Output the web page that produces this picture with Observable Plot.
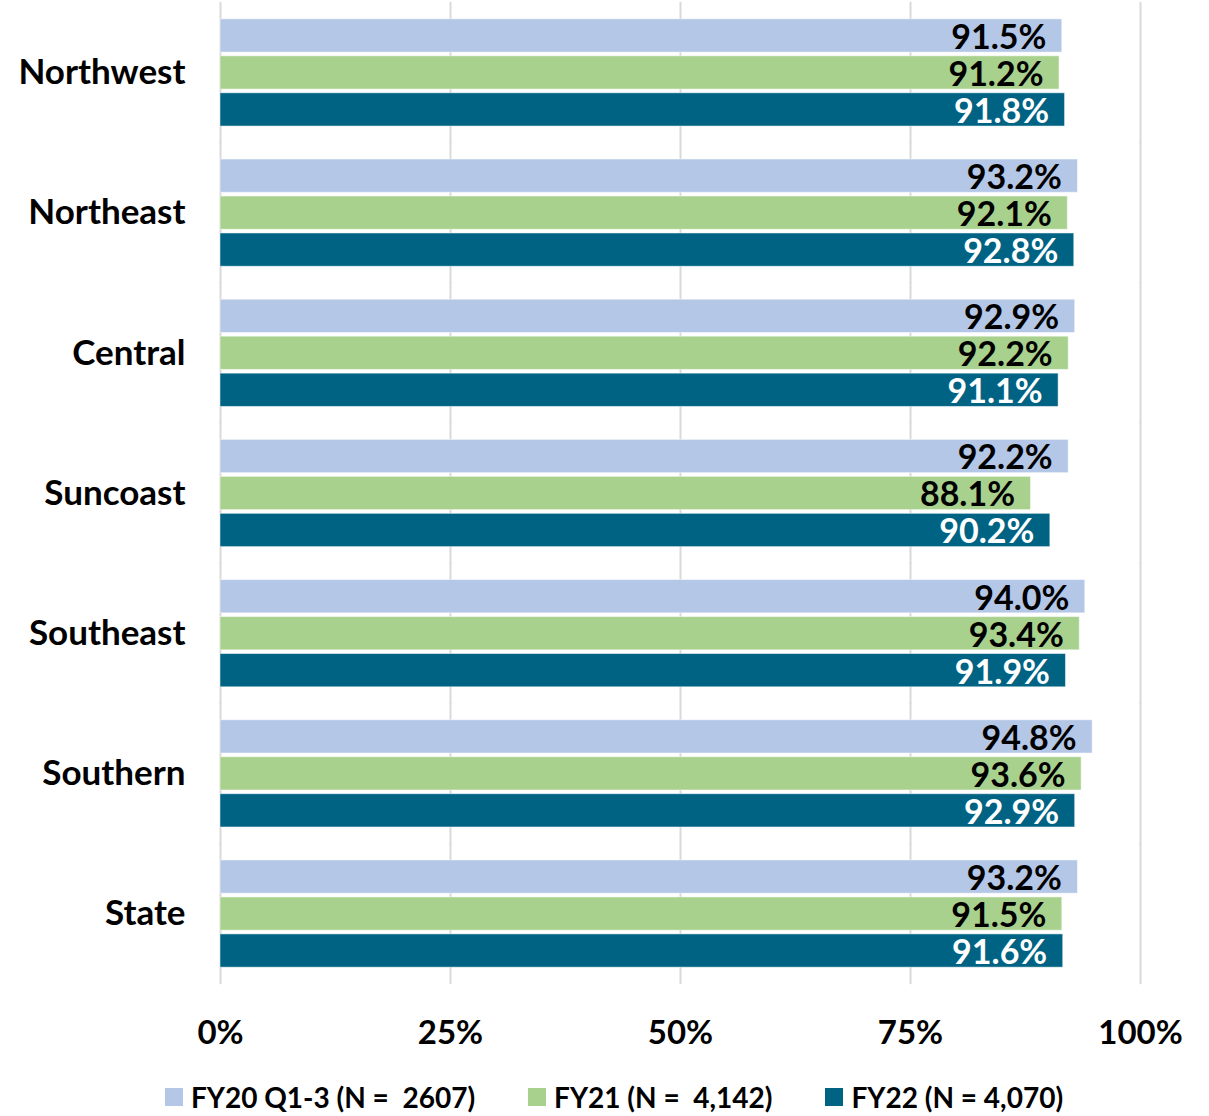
<!DOCTYPE html>
<html>
<head>
<meta charset="utf-8">
<script src="https://cdn.jsdelivr.net/npm/d3@7"></script>
<script src="https://cdn.jsdelivr.net/npm/@observablehq/plot@0.6"></script>
<style>
  html, body { margin: 0; padding: 0; background: #fff; }
  body { width: 1209px; font-family: Lato, "Open Sans", sans-serif; }
  #chart svg text { font-weight: 700; }
  .legend { display: flex; justify-content: center; align-items: center; gap: 53px;
            padding-left: 19px; height: 44px; font-size: 28px; font-weight: 700; color: #000; }
  .legend .item { display: flex; align-items: center; gap: 8px; white-space: pre; }
  .legend .sw { width: 18px; height: 18px; display: inline-block; }
</style>
</head>
<body>
<div id="chart"></div>
<div class="legend" id="legend"></div>
<script>
// Regions, shown top to bottom
const regions = ["Northwest", "Northeast", "Central", "Suncoast", "Southeast", "Southern", "State"];
// Series names as shown in the legend
const seriesNames = ["FY20 Q1-3 (N =  2607)", "FY21 (N =  4,142)", "FY22 (N = 4,070)"];
// Percent values per region, one array per series
const fy20 = [91.5, 93.2, 92.9, 92.2, 94.0, 94.8, 93.2];
const fy21 = [91.2, 92.1, 92.2, 88.1, 93.4, 93.6, 91.5];
const fy22 = [91.8, 92.8, 91.1, 90.2, 91.9, 92.9, 91.6];
const xTicks = [0, 25, 50, 75, 100];
const colors = ["#b4c7e7", "#a9d18e", "#006384"];

const seriesValues = [fy20, fy21, fy22];
const data = [];
regions.forEach((region, i) => {
  seriesNames.forEach((series, s) => {
    data.push({region, series, value: seriesValues[s][i]});
  });
});

const fmt = d => d.value.toFixed(1) + "%";

const chart = Plot.plot({
  width: 1209,
  height: 1075,
  marginLeft: 220,
  marginRight: 69,
  marginTop: 2,
  marginBottom: 91,
  style: {fontFamily: "Lato, 'Open Sans', sans-serif", color: "#000", background: "#fff"},
  x: {domain: [0, 100]},
  y: {domain: seriesNames, paddingInner: 0.1, paddingOuter: 0, round: false, axis: null},
  fy: {domain: regions, paddingInner: 0.235, paddingOuter: 0.12, round: false, axis: null},
  color: {domain: seriesNames, range: colors},
  marks: [
    Plot.ruleX(xTicks, {x: d => d, stroke: "#d9d9d9", strokeWidth: 2, insetTop: -17, insetBottom: -17}),
    Plot.barX(data, {fy: "region", y: "series", x: "value", fill: "series", stroke: "#fff", strokeOpacity: 0.5, strokeWidth: 1}),
    Plot.text(data.filter(d => d.series !== seriesNames[2]), {
      fy: "region", y: "series", x: "value", text: fmt,
      textAnchor: "end", dx: -16, dy: 2, fill: "#000", fontSize: 34, fontWeight: 700
    }),
    Plot.text(data.filter(d => d.series === seriesNames[2]), {
      fy: "region", y: "series", x: "value", text: fmt,
      textAnchor: "end", dx: -16, dy: 2, fill: "#fff", fontSize: 34, fontWeight: 700
    }),
    Plot.axisX({ticks: xTicks, tickFormat: d => d + "%", tickSize: 0, tickPadding: 53,
                fontSize: 33, fontWeight: 700, label: null}),
    Plot.axisFy({anchor: "left", tickSize: 0, tickPadding: 35, fontSize: 35, fontWeight: 700, label: null})
  ]
});
document.getElementById("chart").appendChild(chart);

const legend = document.getElementById("legend");
seriesNames.forEach((name, i) => {
  const item = document.createElement("span");
  item.className = "item";
  const sw = document.createElement("span");
  sw.className = "sw";
  sw.style.background = colors[i];
  const label = document.createElement("span");
  label.textContent = name;
  item.appendChild(sw);
  item.appendChild(label);
  legend.appendChild(item);
});
</script>
</body>
</html>
